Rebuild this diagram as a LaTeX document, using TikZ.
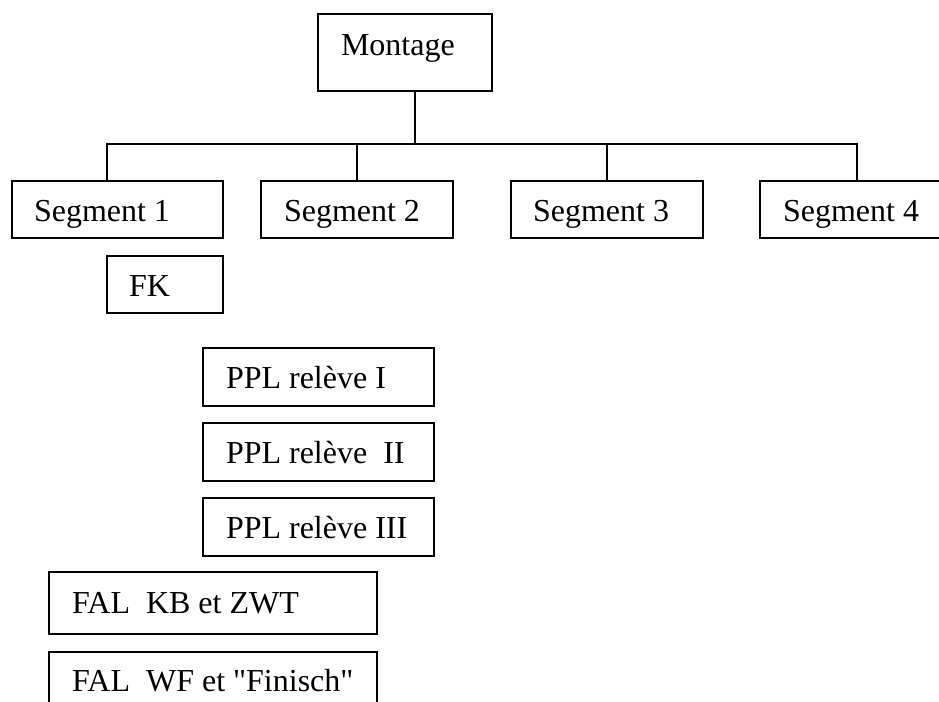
\documentclass[tikz,border=0pt]{standalone}
\usepackage{fontspec}
% plain family: keeps the straight double quote as typed
\newfontfamily\boxfont{Liberation Serif}
\begin{document}
\begin{tikzpicture}[x=0.5pt,y=-0.5pt,
  line width=1pt,
  box/.style={draw=black, rectangle, anchor=north west, inner sep=0pt, outer sep=0pt},
  lbl/.style={anchor=base west, inner sep=0pt, font=\boxfont\fontsize{16}{19}\selectfont}]
\useasboundingbox (0,0) rectangle (939,702);
\clip (0,0) rectangle (939,702);

% top of the hierarchy
\node[box, minimum width=87pt, minimum height=38.5pt] (m) at (318,14) {};
\node[lbl] (mt) at (340,55) {Montage};

% the four segments
\node[box, minimum width=105.5pt, minimum height=28.5pt] (s1) at (12,181) {};
\node[box, minimum width=96pt, minimum height=28.5pt] (s2) at (261,181) {};
\node[box, minimum width=96pt, minimum height=28.5pt] (s3) at (511,181) {};
\node[box, minimum width=97pt, minimum height=28.5pt] (s4) at (760,181) {};
\node[lbl] (s1t) at (33,221) {Segment 1};
\node[lbl] (s2t) at (283,221) {Segment 2};
\node[lbl] (s3t) at (532,221) {Segment 3};
\node[lbl] (s4t) at (782,221) {Segment 4};

% units below segment 1
\node[box, minimum width=58pt, minimum height=28.5pt] (fk) at (107,256) {};
\node[lbl] (fkt) at (128,296) {FK};

\node[box, minimum width=115.5pt, minimum height=29pt] (p1) at (203,348) {};
\node[box, minimum width=115.5pt, minimum height=29pt] (p2) at (203,423) {};
\node[box, minimum width=115.5pt, minimum height=29pt] (p3) at (203,498) {};
\node[lbl] (p1t) at (225,388) {PPL relève I};
\node[lbl] (p2t) at (225,463) {PPL relève\ \ II};
\node[lbl] (p3t) at (225,538) {PPL relève III};

\node[box, minimum width=164pt, minimum height=31pt] (f1) at (49,572) {};
\node[box, minimum width=164pt, minimum height=31pt] (f2) at (49,652) {};
\node[lbl] (f1t) at (71,613) {FAL\ \ KB et ZWT};
\node[lbl] (f2t) at (71,691) {FAL\ \ WF et "Finisch"};

% connectors
\coordinate (bus) at (415,144);
\draw ([xshift=5pt]m.south) -- (bus);
\draw ([xshift=-5.25pt]s1.north) |- (s4.north |- bus) -- (s4.north);
\draw (s2.north) -- (s2.north |- bus);
\draw (s3.north) -- (s3.north |- bus);
\end{tikzpicture}
\end{document}
